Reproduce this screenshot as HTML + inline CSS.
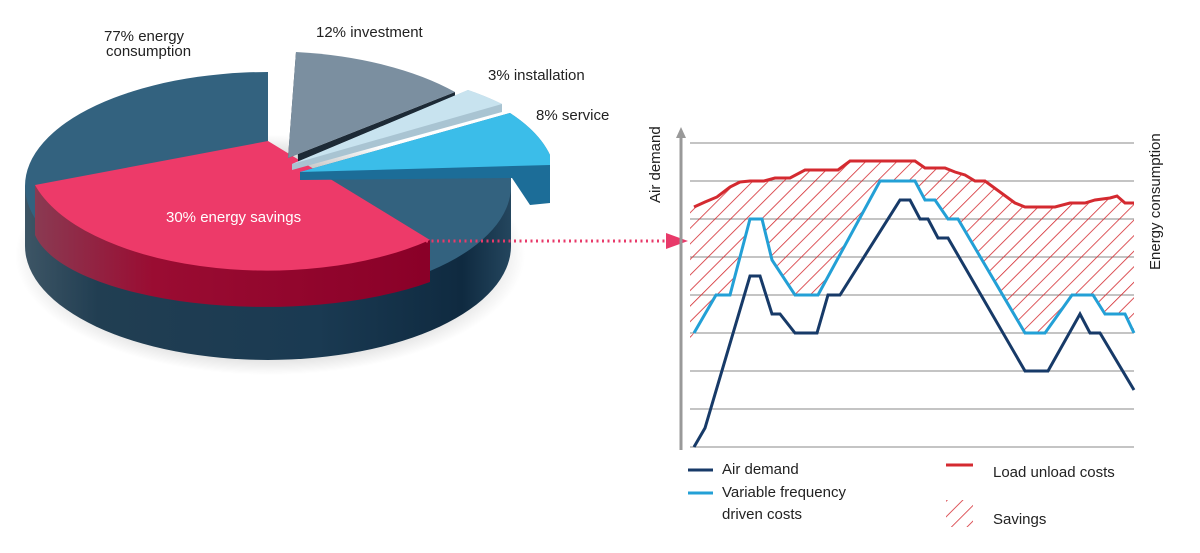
<!DOCTYPE html>
<html><head><meta charset="utf-8"><style>
body{margin:0;background:#fff;}
svg{display:block;font-family:"Liberation Sans",sans-serif;}
</style></head><body>
<svg width="1200" height="553" viewBox="0 0 1200 553" xmlns="http://www.w3.org/2000/svg">
<defs>
<pattern id="h" width="11" height="11" patternUnits="userSpaceOnUse" patternTransform="rotate(45)">
<line x1="0" y1="0" x2="0" y2="11" stroke="#d42a30" stroke-width="1.6"/>
</pattern>
<linearGradient id="side" x1="0" x2="1" y1="0" y2="0">
<stop offset="0" stop-color="#3d5565"/><stop offset="0.15" stop-color="#213e52"/><stop offset="0.6" stop-color="#1a3a52"/><stop offset="0.9" stop-color="#0f2a40"/><stop offset="1" stop-color="#24465e"/>
</linearGradient>
<linearGradient id="redside" x1="0" x2="1" y1="0" y2="0">
<stop offset="0" stop-color="#8a3a52"/><stop offset="0.3" stop-color="#9a0c32"/><stop offset="1" stop-color="#8a0028"/>
</linearGradient>
<radialGradient id="sh" cx="0.5" cy="0.5" r="0.5"><stop offset="0.7" stop-color="#000" stop-opacity="0.25"/><stop offset="1" stop-color="#000" stop-opacity="0"/></radialGradient>
</defs>
<ellipse cx="270" cy="255" rx="255" ry="120" fill="url(#sh)"/>
<path d="M25,186 L25,246 A243,114 0 0 0 511,246 L511,186 Z" fill="url(#side)"/>
<path d="M268,186 L268,72 A243,114 0 1 0 511,186 L511,172 L330,176 Z" fill="#33627f"/>
<path d="M35,185 L35,235 A233,85 0 0 0 430,282 L430,240 Z" fill="url(#redside)"/>
<path d="M268,141 L35,185 A240,115 0 0 0 430,240 Z" fill="#ed3a69"/>
<path d="M296,52 L288,158 L455,92 L455,100 L298,162 Z" fill="#1d2a36"/>
<path d="M296,52 A243,114 0 0 1 455,92 L288,158 Z" fill="#7b8fa0"/>
<path d="M468,90 A243,114 0 0 1 502,104 L502,112 L292,170 L292,164 Z" fill="#a9c4d2"/>
<path d="M468,90 A243,114 0 0 1 502,104 L292,164 Z" fill="#c8e3ef"/>
<path d="M510,113 A243,114 0 0 1 550,155 L550,203 L530,205 L512,178 L300,180 L300,172 Z" fill="#1c6d98"/>
<path d="M510,113 A243,114 0 0 1 550,155 L550,165 L300,172 Z" fill="#3bbde9"/>
<text x="104" y="41" font-size="15" fill="#222">77% energy</text>
<text x="106" y="56" font-size="15" fill="#222">consumption</text>
<text x="316" y="37" font-size="15" fill="#222">12% investment</text>
<text x="488" y="80" font-size="15" fill="#222">3% installation</text>
<text x="536" y="120" font-size="15" fill="#222">8% service</text>
<text x="166" y="222" font-size="15" fill="#fff">30% energy savings</text>
<line x1="415" y1="241" x2="670" y2="241" stroke="#e83a6a" stroke-width="3" stroke-dasharray="2,3.5"/>
<polygon points="666,233 688,241 666,249" fill="#e83a6a"/>
<g stroke="#888" stroke-width="1">
<line x1="690" y1="143" x2="1134" y2="143"/><line x1="690" y1="181" x2="1134" y2="181"/>
<line x1="690" y1="219" x2="1134" y2="219"/><line x1="690" y1="257" x2="1134" y2="257"/>
<line x1="690" y1="295" x2="1134" y2="295"/><line x1="690" y1="333" x2="1134" y2="333"/>
<line x1="690" y1="371" x2="1134" y2="371"/><line x1="690" y1="409" x2="1134" y2="409"/>
<line x1="690" y1="447" x2="1134" y2="447"/>
</g>
<line x1="681" y1="450" x2="681" y2="136" stroke="#999" stroke-width="3"/>
<polygon points="676,138 681,127 686,138" fill="#999"/>
<path d="M690,209 L694,207 L705,202 L717,197 L730,187 L740,182 L750,181 L764,181 L775,178 L790,178 L805,170 L838,170 L850,161 L915,161 L925,168 L945,168 L955,172 L965,175 L975,181 L985,181 L1015,203 L1025,207 L1055,207 L1070,203 L1085,203 L1095,200 L1110,198 L1117,196 L1125,203 L1134,203 L1134,333 L1125,314 L1105,314 L1093,295 L1072,295 L1045,333 L1025,333 L958,219 L948,219 L935,200 L925,200 L915,181 L880,181 L818,295 L795,295 L772,260 L762,219 L750,219 L730,295 L716,295 L694,333 L690,340 Z" fill="url(#h)"/>
<polyline fill="none" stroke="#d42a30" stroke-width="3" points="694,207 705,202 717,197 730,187 740,182 750,181 764,181 775,178 790,178 805,170 838,170 850,161 915,161 925,168 945,168 955,172 965,175 975,181 985,181 1015,203 1025,207 1055,207 1070,203 1085,203 1095,200 1110,198 1117,196 1125,203 1134,203"/>
<polyline fill="none" stroke="#23a0d6" stroke-width="3" points="694,333 716,295 730,295 750,219 762,219 772,260 795,295 818,295 880,181 915,181 925,200 935,200 948,219 958,219 1025,333 1045,333 1072,295 1093,295 1105,314 1125,314 1134,333"/>
<polyline fill="none" stroke="#173a68" stroke-width="3" points="694,447 705,428 750,276 760,276 772,314 780,314 795,333 817,333 828,295 840,295 900,200 910,200 920,219 928,219 938,238 948,238 1025,371 1048,371 1080,314 1090,333 1100,333 1134,390"/>
<text transform="translate(660,203) rotate(-90)" font-size="15" fill="#222">Air demand</text>
<text transform="translate(1160,270) rotate(-90)" font-size="15" fill="#222">Energy consumption</text>
<line x1="688" y1="470" x2="713" y2="470" stroke="#173a68" stroke-width="3"/>
<text x="722" y="474" font-size="15" fill="#222">Air demand</text>
<line x1="688" y1="493" x2="713" y2="493" stroke="#23a0d6" stroke-width="3"/>
<text x="722" y="497" font-size="15" fill="#222">Variable frequency</text>
<text x="722" y="519" font-size="15" fill="#222">driven costs</text>
<line x1="946" y1="465" x2="973" y2="465" stroke="#d42a30" stroke-width="3"/>
<text x="993" y="477" font-size="15" fill="#222">Load unload costs</text>
<rect x="946" y="500" width="27" height="27" fill="url(#h)"/>
<text x="993" y="524" font-size="15" fill="#222">Savings</text>
</svg>
</body></html>
